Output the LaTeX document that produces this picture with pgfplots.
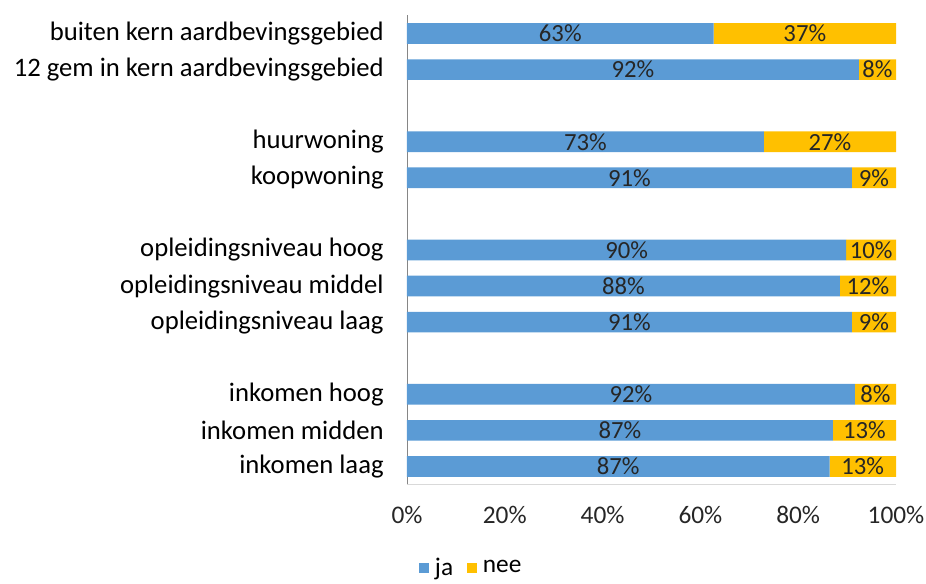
\documentclass[border=0pt]{standalone}
\usepackage{fontspec}
\setmainfont{Carlito}
\usepackage{pgfplots}
\pgfplotsset{compat=1.18}
\usepackage{pgfplotstable}

\definecolor{jablue}{HTML}{5B9BD5}
\definecolor{neegold}{HTML}{FFC000}
\definecolor{ylinegray}{HTML}{868686}
\definecolor{xlinegray}{HTML}{D9D9D9}
\definecolor{labeltext}{HTML}{262626}

% y = rij (0 = onderaan), ja/nee = aandeel in %, mid = plek van het label
\pgfplotstableread{
y  ja   nee  jamid  neemid jalab neelab
12 62.7 37.3 31.35  81.35  63    37
11 92.4 7.6  46.2   96.2   92    8
9  73.0 27.0 36.5   86.5   73    27
8  91.0 9.0  45.5   95.5   91    9
6  89.8 10.2 44.9   94.9   90    10
5  88.5 11.5 44.25  94.25  88    12
4  91.0 9.0  45.5   95.5   91    9
2  91.6 8.4  45.8   95.8   92    8
1  87.1 12.9 43.55  93.55  87    13
0  86.4 13.6 43.2   93.2   87    13
}\groepen

\pgfplotsset{
  basis/.style={
    scale only axis, width=366.75pt, height=351.75pt,
    xmin=0, xmax=100, ymin=-0.5, ymax=12.5,
  },
}

\begin{document}
\begin{tikzpicture}
\begin{axis}[
  basis,
  xbar stacked, bar width=15.5pt,
  ytick={0,1,2,4,5,6,8,9,11,12},
  yticklabels={inkomen laag, inkomen midden, inkomen hoog,
    opleidingsniveau laag, opleidingsniveau middel, opleidingsniveau hoog,
    koopwoning, huurwoning,
    12 gem in kern aardbevingsgebied, buiten kern aardbevingsgebied},
  xtick={0,20,40,60,80,100},
  xticklabels={0\%,20\%,40\%,60\%,80\%,100\%},
  major tick length=0pt,
  axis x line*=bottom, axis y line*=left,
  axis line style={-},
  x axis line style={draw=xlinegray},
  y axis line style={draw=ylinegray},
  yticklabel style={font=\fontsize{20}{24}\selectfont, text=black, xshift=-14pt},
  xticklabel style={font=\fontsize{19}{23}\selectfont, text=labeltext, yshift=-13pt},
  legend image code/.code={\fill[#1] (0pt,-3.9pt) rectangle (7.8pt,3.9pt);},
  legend style={draw=none, legend columns=-1, at={(0,0)}, anchor=west,
    xshift=5.5pt, yshift=-62.5pt, font=\fontsize{19}{23}\selectfont,
    /tikz/every odd column/.append style={column sep=2.5pt},
    /tikz/every even column/.append style={column sep=8pt}},
]
\addplot[fill=jablue, draw=none] table[x=ja, y=y] \groepen;
\addlegendentry{ja}
\addplot[fill=neegold, draw=none] table[x=nee, y=y] \groepen;
\addlegendentry{nee}
\coordinate (bl) at (rel axis cs:0,0);
\coordinate (tr) at (rel axis cs:1,1);
\end{axis}

\begin{axis}[
  basis, hide axis,
  nodes near coords={\pgfplotspointmeta\%},
  point meta=explicit symbolic,
  every node near coord/.append style={anchor=center,
    font=\fontsize{18.5}{22}\selectfont, text=labeltext},
]
\addplot[draw=none] table[x=jamid, y=y, meta=jalab] \groepen;
\addplot[draw=none] table[x=neemid, y=y, meta=neelab] \groepen;
\end{axis}

\pgfresetboundingbox
\path[use as bounding box] ([shift={(-305.25pt,-73.9pt)}]bl)
  rectangle ([shift={(22.5pt,11.6pt)}]tr);
\end{tikzpicture}
\end{document}
